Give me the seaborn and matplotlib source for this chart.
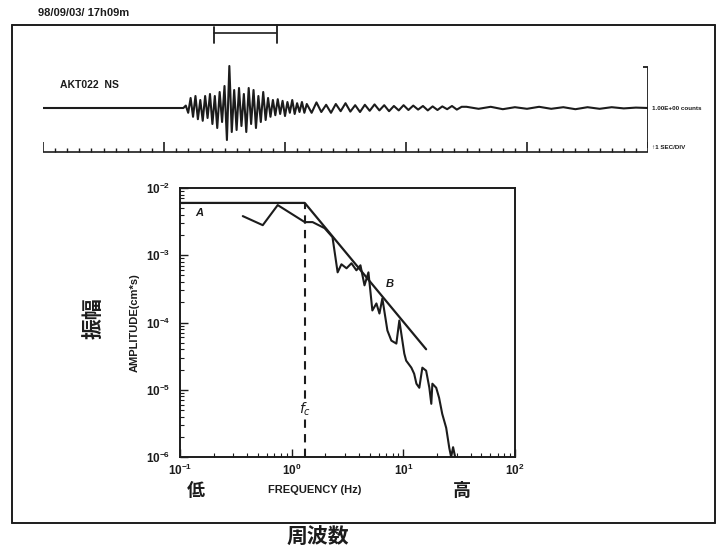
import matplotlib
matplotlib.use('Agg')
import matplotlib.pyplot as plt
from matplotlib.lines import Line2D
import numpy as np
import pandas as pd
import seaborn as sns

spec_freq = [0.365, 0.551, 0.75, 1.31, 1.54, 1.97, 2.32, 2.58, 2.79, 3.10, 3.43, 3.80, 4.13,
             4.49, 4.87, 5.28, 5.74, 6.11, 6.49, 7.20, 7.81, 8.66, 9.21, 10.2, 10.6, 11.8,
             12.5, 13.1, 13.9, 14.8, 16.0, 17.1, 17.8, 18.2, 19.7, 20.9, 22.3, 24.2, 25.8,
             26.8, 27.9, 29.1]
spec_amp = [3.82e-3, 2.80e-3, 5.57e-3, 3.11e-3, 3.11e-3, 2.53e-3, 1.86e-3, 5.57e-4, 7.34e-4,
            6.40e-4, 7.60e-4, 5.97e-4, 7.09e-4, 3.57e-4, 5.57e-4, 1.51e-4, 1.92e-4, 1.36e-4,
            2.28e-4, 7.6e-5, 5.38e-5, 4.86e-5, 1.07e-4, 3.45e-5, 2.71e-5, 2.13e-5, 1.73e-5,
            1.23e-5, 1.07e-5, 2.13e-5, 1.92e-5, 1.07e-5, 6.18e-6, 1.23e-5, 1.07e-5, 7.6e-6,
            4.38e-6, 2.71e-6, 1.36e-6, 1.0e-6, 1.4e-6, 1.0e-6]

# omega-square model: flat level A, corner fc, slope B
model_freq = [0.1, 1.31, 16.0]
model_amp = [6.0e-3, 6.0e-3, 4.0e-5]
fc = 1.31

# seismogram AKT022 NS (1 unit = scale bar half height)
burst_t0, burst_dt = 11.6, 0.2
burst_amp = [0, 0.06, -0.12, 0.25, -0.22, 0.3, -0.28, 0.2, -0.32, 0.3,
             -0.25, 0.35, -0.4, 0.3, -0.5, 0.4, -0.35, 0.55, -0.8, 1.05,
             -0.6, 0.45, -0.55, 0.5, -0.45, 0.35, -0.6, 0.5, -0.4, 0.45,
             -0.5, 0.3, -0.35, 0.4, -0.3, 0.25, -0.22, 0.2, -0.18, 0.22,
             -0.15, 0.18, -0.2, 0.15, -0.12, 0.2, -0.15, 0.12, -0.1, 0.15, -0.12]
coda_t0, coda_dt = 21.8, 0.4
coda_amp = [0.1, -0.12, 0.14, -0.1, 0.08, -0.12, 0.1, -0.08, 0.12, -0.09,
            0.07, -0.1, 0.08, -0.07, 0.09, -0.06, 0.07, -0.08, 0.05, -0.06,
            0.07, -0.05, 0.06, -0.04, 0.05, -0.06, 0.04, -0.05, 0.04, -0.03,
            0.05, -0.04, 0.03]
tail_t0, tail_dt = 35.0, 1.0
tail_amp = [0.03, -0.02, 0.03, -0.03, 0.02, -0.02, 0.03, -0.02, 0.02, -0.03,
            0.02, -0.02, 0.02, -0.01, 0.01, 0.0]

sns.set_theme(style='white')
plt.rcParams['font.family'] = ['Liberation Sans', 'Noto Sans CJK JP', 'DejaVu Sans']
plt.rcParams['mathtext.default'] = 'bf'

W, H = 719, 549
fig = plt.figure(figsize=(W / 100, H / 100), dpi=100)
fig.patch.set_facecolor('white')


def fx(px):
    return px / W


def fy(py):
    return 1 - py / H


ink = '#1c1c1c'

# outer frame
for xs, ys in [([12, 715], [25, 25]), ([12, 12], [25, 523]),
               ([12, 715], [523, 523]), ([715, 715], [25, 523])]:
    fig.add_artist(Line2D([fx(v) for v in xs], [fy(v) for v in ys], color=ink, lw=1.4))

fig.text(fx(38), fy(13), '98/09/03/ 17h09m', fontsize=8, fontweight='bold', color=ink,
         va='center', ha='left')

# window bracket
fig.add_artist(Line2D([fx(214), fx(214)], [fy(27), fy(43)], color=ink, lw=1.3))
fig.add_artist(Line2D([fx(277), fx(277)], [fy(25), fy(43)], color=ink, lw=1.3))
fig.add_artist(Line2D([fx(214), fx(276)], [fy(33), fy(33)], color=ink, lw=1.2))

# ---- seismogram ----
sx0, sx1, sy0, sy1 = 43, 648, 55, 165
ax_s = fig.add_axes([fx(sx0), fy(sy1), (sx1 - sx0) / W, (sy1 - sy0) / H])
base = 108
ax_s.set_xlim(0, 50)
ax_s.set_ylim(-(sy1 - base) / 40, (base - sy0) / 40)
ax_s.axis('off')

seis = pd.concat([
    pd.DataFrame({'t': [0.0, burst_t0 - 0.1], 'a': [0.0, 0.0]}),
    pd.DataFrame({'t': burst_t0 + burst_dt * np.arange(len(burst_amp)), 'a': burst_amp}),
    pd.DataFrame({'t': coda_t0 + coda_dt * np.arange(len(coda_amp)), 'a': coda_amp}),
    pd.DataFrame({'t': tail_t0 + tail_dt * np.arange(len(tail_amp)), 'a': tail_amp}),
])
sns.lineplot(data=seis, x='t', y='a', ax=ax_s, color=ink, lw=1.5, estimator=None, sort=False)

# time ruler
ruler_y = -(152 - base) / 40
ax_s.hlines(ruler_y, 0, 50, color=ink, lw=1.2)
ticks = np.arange(0, 51)
big = ticks % 10 == 0
ax_s.vlines(ticks[~big], ruler_y, ruler_y + 0.1, color=ink, lw=1.0)
ax_s.vlines(ticks[big], ruler_y, ruler_y + 0.25, color=ink, lw=1.2)

# amplitude scale bar
ax_s.vlines(50, -1.0, (base - 67) / 40, color=ink, lw=1.3)
ax_s.hlines((base - 67) / 40, 49.6, 50.4, color=ink, lw=1.3)

fig.text(fx(60), fy(85), 'AKT022  NS', fontsize=7.5, fontweight='bold', color=ink, va='center')
fig.text(fx(652), fy(108), '1.00E+00 counts', fontsize=4.5, fontweight='bold', color=ink,
         va='center')
fig.text(fx(652), fy(147), '↑1 SEC/DIV', fontsize=4.5, fontweight='bold', color=ink,
         va='center')

# ---- spectrum ----
ax = fig.add_axes([fx(180), fy(457), (515 - 180) / W, (457 - 188) / H])
sns.lineplot(x=model_freq, y=model_amp, ax=ax, color=ink, lw=1.6, estimator=None, sort=False)
sns.lineplot(x=spec_freq, y=spec_amp, ax=ax, color=ink, lw=1.5, estimator=None, sort=False)
ax.vlines(fc, 1e-6, model_amp[0], color=ink, lw=1.5, linestyles=(0, (4, 3)))
ax.set_xscale('log')
ax.set_yscale('log')
ax.set_xlim(0.1, 100)
ax.set_ylim(1e-6, 1e-2)
ax.set_xlabel('')
ax.set_ylabel('AMPLITUDE(cm*s)', fontsize=8, fontweight='bold', color=ink, labelpad=4)
for side in ax.spines.values():
    side.set_color(ink)
    side.set_linewidth(1.4)
ax.tick_params(which='both', direction='in', top=False, right=False, bottom=True, left=True,
               colors=ink, labelsize=8.5)
ax.tick_params(which='major', length=6, width=1.0)
ax.tick_params(which='minor', length=3, width=0.8)
ax.tick_params(axis='x', which='major', pad=4)
ax.tick_params(axis='y', which='major', pad=7)
for lab in ax.get_xticklabels() + ax.get_yticklabels():
    lab.set_fontweight('bold')

ax.text(0.15, 4.3e-3, 'A', fontsize=8, fontstyle='italic', fontweight='bold', color=ink,
        ha='center', va='center')
ax.text(7.5, 3.8e-4, 'B', fontsize=8, fontstyle='italic', fontweight='bold', color=ink,
        ha='center', va='center')
ax.text(fc, 5.2e-6, r'$\mathit{f_c}$', fontsize=10, color=ink, ha='center', va='center',
        bbox=dict(facecolor='white', edgecolor='none', pad=0.5))

fig.text(fx(315), fy(490), 'FREQUENCY (Hz)', fontsize=8, fontweight='bold', color=ink,
         ha='center', va='center')
fig.text(fx(196), fy(490), '低', fontsize=13, fontweight='bold', color=ink,
         ha='center', va='center', family=['Noto Sans CJK JP'])
fig.text(fx(462), fy(490), '高', fontsize=13, fontweight='bold', color=ink,
         ha='center', va='center', family=['Noto Sans CJK JP'])
fig.text(fx(318), fy(537), '周波数', fontsize=15, fontweight='bold', color=ink,
         ha='center', va='center', family=['Noto Sans CJK JP'])
fig.text(fx(93), fy(318), '振幅', fontsize=15, fontweight='bold', color=ink, rotation=90,
         ha='center', va='center', family=['Noto Sans CJK JP'])

fig.savefig('out.png', dpi=100)
